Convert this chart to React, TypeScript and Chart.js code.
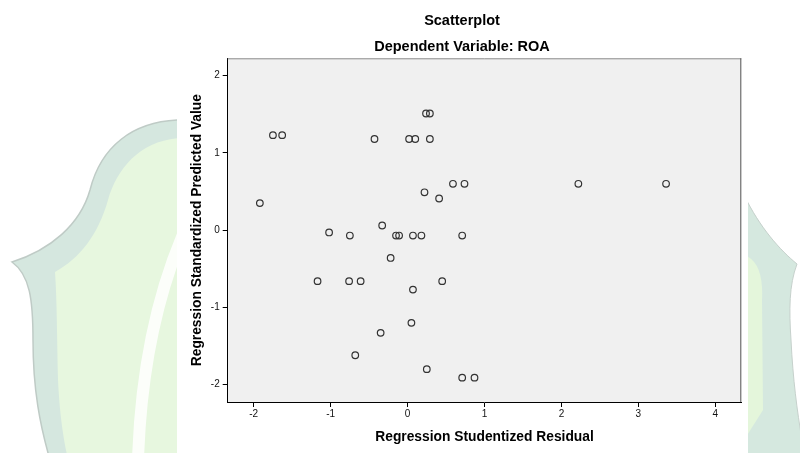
import React, { useEffect, useRef } from "react";
import { Chart, registerables } from "chart.js";

Chart.register(...registerables);

// Regression Studentized Residual (x) and Regression Standardized Predicted Value (y)
const residuals = [
  -1.92, -1.75, -1.63, -1.02, -0.75, -0.43, -0.33, -0.22, -0.15, -0.11,
  0.02, 0.1, 0.07, 0.18, 0.22, 0.24, 0.29, 0.29, 0.41, 0.59,
  0.74, 0.71, 2.22, 3.36, -1.17, -0.76, -0.61, 0.45, 0.07, 0.05,
  -0.35, -0.68, 0.25, 0.71, 0.87,
];
const predicted = [
  0.35, 1.23, 1.23, -0.03, -0.07, 1.18, 0.06, -0.36, -0.07, -0.07,
  1.18, 1.18, -0.07, -0.07, 0.49, 1.51, 1.51, 1.18, 0.41, 0.6,
  0.6, -0.07, 0.6, 0.6, -0.66, -0.66, -0.66, -0.66, -0.77, -1.2,
  -1.33, -1.62, -1.8, -1.91, -1.91,
];
const xTicks = [-2, -1, 0, 1, 2, 3, 4];
const yTicks = [-2, -1, 0, 1, 2];

const FONT = "'Liberation Sans', Arial, sans-serif";

const backgroundPlugin = {
  id: "spssBackground",
  beforeDraw(chart: any) {
    const { ctx, width, height, chartArea } = chart;
    ctx.save();
    ctx.fillStyle = "#ffffff";
    ctx.fillRect(0, 0, width, height);

    // faded watermark, left part
    ctx.save();
    ctx.beginPath();
    ctx.rect(0, 0, 177, height);
    ctx.clip();
    ctx.beginPath();
    ctx.moveTo(190, 120);
    ctx.bezierCurveTo(130, 118, 100, 150, 90, 190);
    ctx.bezierCurveTo(80, 225, 50, 250, 12, 262);
    ctx.bezierCurveTo(30, 275, 33, 300, 33, 340);
    ctx.bezierCurveTo(33, 390, 40, 425, 50, 460);
    ctx.lineTo(190, 460);
    ctx.closePath();
    ctx.fillStyle = "#d5e7df";
    ctx.fill();
    ctx.strokeStyle = "#bfcbc6";
    ctx.lineWidth = 1.5;
    ctx.stroke();
    ctx.beginPath();
    ctx.moveTo(190, 138);
    ctx.bezierCurveTo(145, 136, 118, 165, 108, 200);
    ctx.bezierCurveTo(98, 235, 80, 258, 55, 272);
    ctx.bezierCurveTo(57, 300, 57, 340, 58, 380);
    ctx.bezierCurveTo(60, 420, 64, 440, 68, 460);
    ctx.lineTo(190, 460);
    ctx.closePath();
    ctx.fillStyle = "#e7f7df";
    ctx.fill();
    ctx.beginPath();
    ctx.moveTo(184, 232);
    ctx.quadraticCurveTo(142, 330, 138, 460);
    ctx.strokeStyle = "rgba(255,255,255,0.85)";
    ctx.lineWidth = 12;
    ctx.stroke();
    ctx.restore();

    // faded watermark, right part
    ctx.save();
    ctx.beginPath();
    ctx.rect(748, 0, width - 748, height);
    ctx.clip();
    ctx.beginPath();
    ctx.moveTo(744, 195);
    ctx.bezierCurveTo(760, 228, 780, 250, 797, 264);
    ctx.bezierCurveTo(789, 285, 789, 310, 791, 340);
    ctx.bezierCurveTo(793, 380, 797, 410, 802, 440);
    ctx.lineTo(802, 460);
    ctx.lineTo(744, 460);
    ctx.closePath();
    ctx.fillStyle = "#d5e8df";
    ctx.fill();
    ctx.strokeStyle = "#c6d1cc";
    ctx.lineWidth = 1;
    ctx.stroke();
    ctx.beginPath();
    ctx.moveTo(744, 255);
    ctx.quadraticCurveTo(764, 262, 762, 300);
    ctx.lineTo(763, 410);
    ctx.lineTo(744, 440);
    ctx.closePath();
    ctx.fillStyle = "#e4f6db";
    ctx.fill();
    ctx.restore();

    // plot area
    ctx.fillStyle = "#f0f0f0";
    ctx.fillRect(
      chartArea.left,
      chartArea.top,
      chartArea.right - chartArea.left,
      chartArea.bottom - chartArea.top
    );
    ctx.restore();
  },
  afterDraw(chart: any) {
    const { ctx, chartArea } = chart;
    ctx.save();
    ctx.lineWidth = 1;
    ctx.strokeStyle = "#8c8c8c";
    ctx.beginPath();
    ctx.moveTo(chartArea.left, chartArea.top + 0.5);
    ctx.lineTo(chartArea.right, chartArea.top + 0.5);
    ctx.stroke();
    ctx.strokeStyle = "#555555";
    ctx.beginPath();
    ctx.moveTo(chartArea.right - 0.5, chartArea.top);
    ctx.lineTo(chartArea.right - 0.5, chartArea.bottom);
    ctx.stroke();
    ctx.restore();
  },
};

export default function App() {
  const canvasRef = useRef<HTMLCanvasElement | null>(null);

  useEffect(() => {
    const canvas = canvasRef.current;
    if (!canvas) return;
    const points = residuals.map((x, i) => ({ x, y: predicted[i] }));
    const chart = new Chart(canvas, {
      type: "scatter",
      data: {
        datasets: [
          {
            data: points,
            xAxisID: "x",
            yAxisID: "y",
            pointStyle: "circle",
            pointRadius: 3.3,
            pointHoverRadius: 3.3,
            borderWidth: 1.2,
            borderColor: "#333333",
            backgroundColor: "rgba(0,0,0,0)",
          },
        ],
      },
      options: {
        animation: false,
        responsive: false,
        devicePixelRatio: 1,
        layout: { padding: { left: 176, right: 52, top: 0, bottom: 0 } },
        plugins: {
          legend: { display: false },
          tooltip: { enabled: false },
          title: {
            display: true,
            text: "Scatterplot",
            color: "#000",
            font: { family: FONT, size: 14.5, weight: "bold", lineHeight: 1.2 },
            padding: { top: 11.8, bottom: 0 },
          },
          subtitle: {
            display: true,
            text: "Dependent Variable: ROA",
            color: "#000",
            font: { family: FONT, size: 14.5, weight: "bold", lineHeight: 1.2 },
            padding: { top: 9.1, bottom: 2.6 },
          },
        },
        scales: {
          x: {
            type: "linear",
            position: "bottom",
            min: -2.338,
            max: 4.338,
            afterBuildTicks: (axis: any) => {
              axis.ticks = xTicks.map((v) => ({ value: v }));
            },
            afterFit: (axis: any) => {
              axis.height = 51;
            },
            grid: {
              drawOnChartArea: false,
              drawTicks: true,
              tickLength: 5,
              color: "#000",
            },
            border: { display: true, color: "#000", width: 1 },
            ticks: {
              color: "#111",
              padding: 1,
              maxRotation: 0,
              font: { family: FONT, size: 10 },
            },
            title: {
              display: true,
              text: "Regression Studentized Residual",
              color: "#000",
              font: { family: FONT, size: 13.8, weight: "bold", lineHeight: 1.2 },
              padding: { top: 4, bottom: 7.2 },
            },
          },
          y: {
            type: "linear",
            position: "left",
            min: -2.225,
            max: 2.225,
            afterBuildTicks: (axis: any) => {
              axis.ticks = yTicks.map((v) => ({ value: v }));
            },
            afterFit: (axis: any) => {
              axis.width = 51.7;
            },
            grid: {
              drawOnChartArea: false,
              drawTicks: true,
              tickLength: 5,
              color: "#000",
            },
            border: { display: true, color: "#000", width: 1 },
            ticks: {
              color: "#111",
              padding: 3,
              font: { family: FONT, size: 10 },
            },
            title: {
              display: true,
              text: "Regression Standardized Predicted Value",
              color: "#000",
              font: { family: FONT, size: 13.8, weight: "bold", lineHeight: 1.2 },
              padding: { top: 13.2, bottom: 0 },
            },
          },
          yr: {
            type: "linear",
            position: "right",
            display: true,
            afterFit: (axis: any) => {
              axis.width = 6.7;
            },
            grid: { display: false, drawTicks: false },
            border: { display: false },
            ticks: { display: false },
          },
        },
      },
      plugins: [backgroundPlugin],
    } as any);
    return () => chart.destroy();
  }, []);

  return (
    <div style={{ position: "absolute", left: 0, top: 0, width: 800, height: 453 }}>
      <canvas ref={canvasRef} width={800} height={453} style={{ display: "block" }} />
    </div>
  );
}
